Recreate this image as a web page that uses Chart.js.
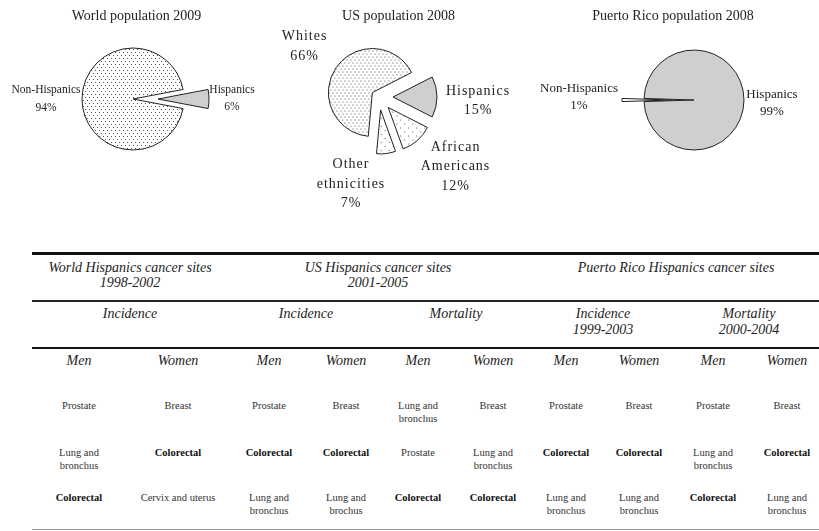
<!DOCTYPE html>
<html>
<head>
<meta charset="utf-8">
<script src="https://cdn.jsdelivr.net/npm/chart.js@4/dist/chart.umd.min.js"></script>
<style>
  html, body { margin: 0; padding: 0; background: #fff; }
  body { width: 819px; height: 531px; position: relative; overflow: hidden;
         font-family: "Liberation Serif", "Times New Roman", serif; color: #222; }
  canvas { position: absolute; top: 0; }
  .rule { position: absolute; left: 32px; right: 0; background: #111; }
  .cell { position: absolute; width: 220px; text-align: center; white-space: pre; }
  .hd { font-style: italic; font-size: 14px; }
  .bd { font-size: 10.5px; color: #333; }
  .bd.b { font-weight: bold; color: #111; }
</style>
</head>
<body>
<canvas id="world" width="273" height="235" style="left:0"></canvas>
<canvas id="us" width="270" height="235" style="left:250px"></canvas>
<canvas id="pr" width="299" height="235" style="left:520px"></canvas>
<div id="table"></div>
<script>
// pie data
const worldLabels = ["Hispanics", "Non-Hispanics"];
const worldValues = [6, 94];
const usLabels = ["Hispanics", "African Americans", "Other ethnicities", "Whites"];
const usValues = [15, 12, 7, 66];
const prLabels = ["Non-Hispanics", "Hispanics"];
const prValues = [1, 99];

// table data
const groupHeaders = ["World Hispanics cancer sites\n1998-2002", "US Hispanics cancer sites\n2001-2005", "Puerto Rico Hispanics cancer sites"];
const measureHeaders = ["Incidence", "Incidence", "Mortality", "Incidence\n1999-2003", "Mortality\n2000-2004"];
const sexHeaders = ["Men", "Women", "Men", "Women", "Men", "Women", "Men", "Women", "Men", "Women"];
const rank1 = ["Prostate", "Breast", "Prostate", "Breast", "Lung and\nbronchus", "Breast", "Prostate", "Breast", "Prostate", "Breast"];
const rank2 = ["Lung and\nbronchus", "Colorectal", "Colorectal", "Colorectal", "Prostate", "Lung and\nbronchus", "Colorectal", "Colorectal", "Lung and\nbronchus", "Colorectal"];
const rank3 = ["Colorectal", "Cervix and uterus", "Lung and\nbronchus", "Lung and\nbrochus", "Colorectal", "Colorectal", "Lung and\nbronchus", "Lung and\nbronchus", "Colorectal", "Lung and\nbronchus"];

function dots(w, h, pts) {
  const c = document.createElement("canvas");
  c.width = w; c.height = h;
  const g = c.getContext("2d");
  g.fillStyle = "#fff";
  g.fillRect(0, 0, w, h);
  g.fillStyle = "#555";
  pts.forEach(p => g.fillRect(p[0], p[1], 1, 1));
  return g.createPattern(c, "repeat");
}
const denseDots = dots(4, 6, [[1, 1], [3, 4]]);
const sparseDots = dots(8, 8, [[1, 1], [5, 5]]);
const gray = "#cfcfcf";

// draws exploded slices and the labels
const piePlugin = {
  id: "piePlugin",
  beforeDatasetDraw(chart, args) {
    const ctx = chart.ctx;
    const explode = chart.data.datasets[args.index].explode || [];
    args.meta.data.forEach((arc, i) => {
      const mid = (arc.startAngle + arc.endAngle) / 2;
      const d = explode[i] || 0;
      ctx.save();
      ctx.translate(Math.cos(mid) * d, Math.sin(mid) * d);
      arc.draw(ctx);
      ctx.restore();
    });
    return false;
  },
  afterDatasetsDraw(chart, args, opts) {
    const ctx = chart.ctx;
    const ds = chart.data.datasets[0];
    ctx.save();
    ctx.fillStyle = "#222";
    ctx.textAlign = "center";
    ctx.textBaseline = "middle";
    ctx.font = "14px 'Liberation Serif'";
    ctx.fillText(opts.title, opts.titleX, 16);
    ctx.font = opts.font;
    ctx.letterSpacing = opts.spacing || "0px";
    chart.getDatasetMeta(0).data.forEach((arc, i) => {
      const mid = (arc.startAngle + arc.endAngle) / 2;
      const p = opts.pos[i];
      const x = arc.x + Math.cos(mid) * p[0] + p[1];
      const y = arc.y + Math.sin(mid) * p[0] + p[2];
      const name = chart.data.labels[i];
      const lines = (opts.wrap ? name.split(" ") : [name]).concat(ds.data[i] + "%");
      lines.forEach((t, k) => {
        ctx.fillText(t, x, y + (k - (lines.length - 1) / 2) * opts.lh);
      });
    });
    ctx.restore();
  }
};

function pie(id, labels, values, fills, explode, radius, rotation, padding, labelOpts) {
  new Chart(document.getElementById(id), {
    type: "pie",
    data: {
      labels: labels,
      datasets: [{
        data: values,
        backgroundColor: fills,
        borderColor: "#222",
        borderWidth: 1,
        explode: explode,
        clip: false
      }]
    },
    options: {
      responsive: false,
      animation: false,
      events: [],
      radius: radius,
      rotation: rotation,
      layout: { padding: padding },
      plugins: {
        legend: { display: false },
        tooltip: { enabled: false },
        piePlugin: labelOpts
      }
    },
    plugins: [piePlugin]
  });
}

pie("world", worldLabels, worldValues, [gray, denseDots], [25, 0], 51,
  90 - worldValues[0] * 1.8,
  { left: 0, right: 7, top: 0, bottom: 37 },
  { title: "World population 2009", titleX: 136.5, font: "11.5px 'Liberation Serif'", lh: 17.5,
    pos: [[99, 0, -0.5], [87, 0, 0]] });

pie("us", usLabels, usValues, [gray, sparseDots, sparseDots, denseDots], [14, 14, 13, 8], 44,
  90 - usValues[0] * 1.8,
  { left: 0, right: 12, top: 0, bottom: 41 },
  { title: "US population 2008", titleX: 148.5, font: "14px 'Liberation Serif'", spacing: "1px", wrap: true, lh: 19.5,
    pos: [[99, 0, 4], [93, 15, 0], [88, -39, 0], [90, 0, 0]] });

pie("pr", prLabels, prValues, [sparseDots, gray], [22, 0], 50,
  270 - prValues[0] * 1.8,
  { left: 49, right: 0, top: 0, bottom: 35 },
  { title: "Puerto Rico population 2008", titleX: 153, font: "13px 'Liberation Serif'", lh: 17,
    pos: [[115, 0, -2.5], [78, 0, 3.5]] });

// table below the pies
const table = document.getElementById("table");
function cell(text, cx, cy, cls, lh) {
  const el = document.createElement("div");
  el.className = "cell " + cls;
  el.textContent = text;
  el.style.left = (cx - 110) + "px";
  el.style.top = (cy - lh / 2) + "px";
  el.style.lineHeight = lh + "px";
  table.appendChild(el);
}
function rule(y, h, color) {
  const el = document.createElement("div");
  el.className = "rule";
  el.style.top = y + "px";
  el.style.height = h + "px";
  if (color) el.style.background = color;
  table.appendChild(el);
}
rule(252, 3);
rule(300, 2, "#222");
rule(347, 2);
rule(529, 1, "#999");

const groupX = [130, 378, 676];
const measureX = [130, 306, 456, 603, 749];
const colX = [79, 178, 269, 346, 418, 493, 566, 639, 713, 787];
groupHeaders.forEach((t, i) => cell(t, groupX[i], 267, "hd", 15));
measureHeaders.forEach((t, i) => cell(t, measureX[i], 314, "hd", 16));
sexHeaders.forEach((t, i) => cell(t, colX[i], 361, "hd", 16));
[rank1, rank2, rank3].forEach((row, r) => {
  const y = [405, 452, 497][r];
  row.forEach((t, i) => cell(t, colX[i], y, "bd" + (t === "Colorectal" ? " b" : ""), 13));
});
</script>
</body>
</html>
